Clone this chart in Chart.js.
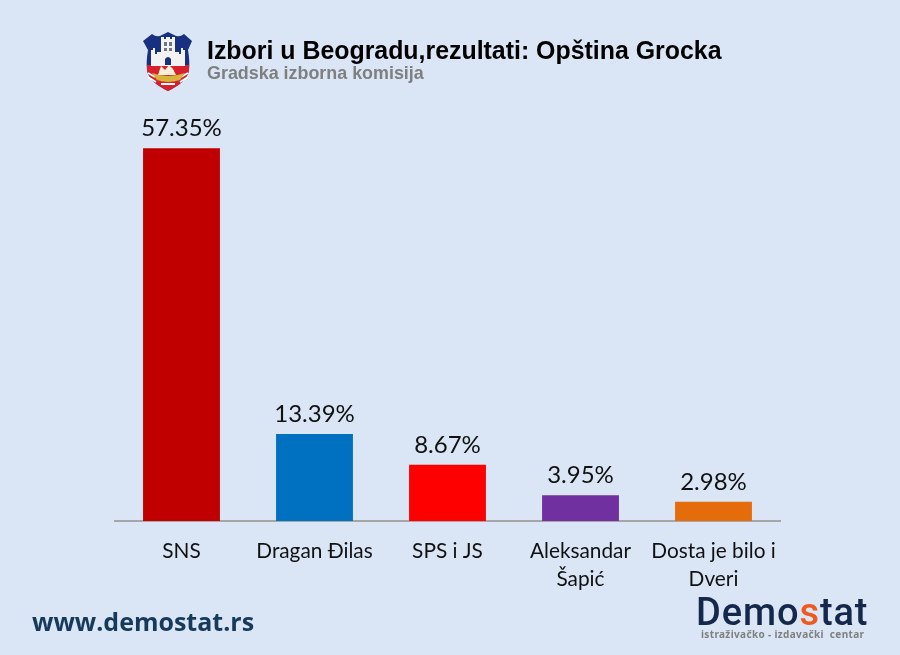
<!DOCTYPE html>
<html>
<head>
<meta charset="utf-8">
<title>Izbori u Beogradu</title>
<script src="https://cdn.jsdelivr.net/npm/chart.js@4"></script>
<style>
  html, body { margin: 0; padding: 0; background: #dae6f6; }
  #wrap { position: relative; width: 900px; height: 655px; overflow: hidden; }
  #wrap canvas { position: absolute; left: 0; top: 0; }
  .txt { position: absolute; white-space: nowrap; }
  #title { left: 207px; top: 36px; font: bold 24.9px "Liberation Sans", Arial, sans-serif; color: #000; }
  #sub { left: 207px; top: 63px; font: bold 17.9px "Liberation Sans", Arial, sans-serif; color: #7f7f7f; }
  #site { left: 32px; top: 604px; font: bold 25px "Open Sans", sans-serif; color: #153a5c; }
  #logo { left: 696px; top: 590px; font: 500 38px Roboto, sans-serif; color: #14284b; letter-spacing: 0.9px; }
  #logo span { color: #f0581f; }
  #tag { left: 701px; top: 627px; font: bold 10px "Noto Sans", sans-serif; color: #7f7f7f; letter-spacing: 0.35px; }
  #crest { position: absolute; left: 143px; top: 32px; }
</style>
</head>
<body>
<div id="wrap">
  <canvas id="chart" width="900" height="655"></canvas>
  <svg id="crest" width="50" height="60" viewBox="0 0 50 60">
    <path d="M0 9 L9 2 Q14 6 19 3 L25 0 L31 3 Q36 6 41 2 L49 9 L45 18 Q47 30 46 38 Q44 50 25 59 Q6 50 4 38 Q3 30 5 18 Z" fill="#17307f"/>
    <path d="M4 33 H46 L46 38 Q44 50 25 59 Q6 50 4 38 Z" fill="#d8212f"/>
    <path d="M5 41 L12 45 M5 45 L13 50 M45 41 L38 45 M45 45 L37 50 M18 52 H32" stroke="#fff" stroke-width="1.8"/>
    <path d="M18 5 H21 V7 H23 V5 H27 V7 H29 V5 H32 V20 H36 V22 H38 V16 H40 V18 H42 V34 H8 V18 H10 V16 H12 V22 H14 V20 H18 Z" fill="#f2f2f2"/>
    <path d="M21 10 H24 V14 H21 Z M26 10 H29 V14 H26 Z M21 16 H24 V19 H21 Z M26 16 H29 V19 H26 Z" fill="#6f7480"/>
    <path d="M22 33 V27 Q25 23 28 27 V33 Z" fill="#17307f"/>
    <path d="M15 43 L18 34 L22 38 L26 33 L30 37 L33 43 Z" fill="#f6f0d8"/>
    <path d="M9 41 Q25 47 42 41 L37 48 Q25 52 14 48 Z" fill="#d9b23c"/>
  </svg>
  <div class="txt" id="title">Izbori u Beogradu,rezultati: Opština Grocka</div>
  <div class="txt" id="sub">Gradska izborna komisija</div>
  <div class="txt" id="site">www.demostat.rs</div>
  <div class="txt" id="logo">Demo<span>s</span>tat</div>
  <div class="txt" id="tag">istraživačko - izdavački&nbsp; centar</div>
</div>
<script>
var categories = ["SNS", "Dragan Đilas", "SPS i JS", ["Aleksandar", "Šapić"], ["Dosta je bilo i", "Dveri"]];
var values = [57.35, 13.39, 8.67, 3.95, 2.98];
var barColors = ["#c00000", "#0070c0", "#ff0000", "#7030a0", "#e46c0a"];

// natpisi iznad stubova
var valueLabels = {
  id: "valueLabels",
  afterDatasetsDraw: function (chart) {
    var ctx = chart.ctx;
    var meta = chart.getDatasetMeta(0);
    ctx.save();
    ctx.font = '24px Lato, sans-serif';
    ctx.fillStyle = "#111";
    ctx.textAlign = "center";
    ctx.textBaseline = "alphabetic";
    meta.data.forEach(function (bar, i) {
      ctx.fillText(values[i].toFixed(2) + "%", bar.x, bar.y - 12);
    });
    ctx.restore();
  },
};

new Chart(document.getElementById("chart").getContext("2d"), {
  type: "bar",
  data: {
    labels: categories,
    datasets: [
      {
        data: values,
        backgroundColor: barColors,
        borderWidth: 0,
        categoryPercentage: 1,
        barPercentage: 0.578,
      },
    ],
  },
  options: {
    responsive: false,
    animation: false,
    layout: { padding: { left: 115, right: 120, top: 131, bottom: 0 } },
    plugins: { legend: { display: false }, tooltip: { enabled: false } },
    scales: {
      x: {
        grid: { display: false },
        border: { color: "#a6a6a6", width: 2 },
        ticks: {
          color: "#111",
          padding: 8,
          maxRotation: 0,
          autoSkip: false,
          font: { family: "Lato, sans-serif", size: 20.8, lineHeight: 1.35 },
        },
        afterFit: function (scale) {
          scale.height = 134;
        },
      },
      y: { display: false, min: 0, max: 60 },
    },
  },
  plugins: [valueLabels],
});
</script>
</body>
</html>
